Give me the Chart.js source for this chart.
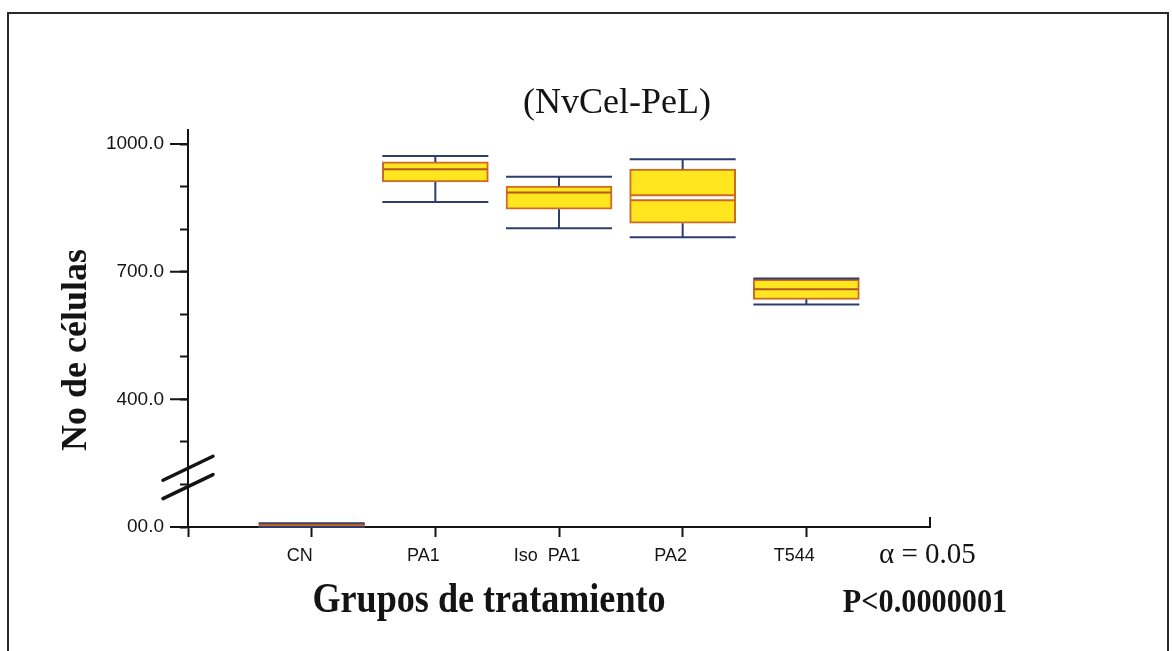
<!DOCTYPE html>
<html>
<head>
<meta charset="utf-8">
<title>NvCel-PeL</title>
<script src="https://cdn.jsdelivr.net/npm/chart.js@4.4.1/dist/chart.umd.min.js"></script>
<style>
  html, body { margin: 0; padding: 0; background: #fff; }
  canvas { display: block; }
</style>
</head>
<body>
<canvas id="c" width="1172" height="651"></canvas>
<script>
// Treatment groups and their box-plot summaries (number of cells)
const categories  = ['CN', 'PA1', 'Iso  PA1', 'PA2', 'T544'];
const whiskerLow  = [0, 864, 802, 781, 623];
const quartile1   = [1, 911, 847, 814, 635];
const medians     = [5, 941, 886, 874, 659];
const quartile3   = [8, 958, 901, 941, 682];
const whiskerHigh = [9, 972, 923, 964, 684];

// Y axis ticks; the lowest one sits below the axis break and stands for 0
const majorTicks = [100, 400, 700, 1000];
const tickLabels = ['00.0', '400.0', '700.0', '1000.0'];
const minorStep = 50;

// Values under the break are drawn shifted up to the bottom of the axis
const BREAK_BELOW = 100;
const toAxis = v => (v < BREAK_BELOW ? v + BREAK_BELOW : v);

const xLabels = ['', ...categories, ''];
const boxes = [null, ...categories.map((_, i) => [toAxis(quartile1[i]), toAxis(quartile3[i])]), null];

const INK = '#141414';
const BOX_FILL = '#FFE61E';
const BOX_EDGE = '#CF6A26';
const MEDIAN = '#B5561C';
const WHISKER = '#2F3D6E';

// Median drawn as an open band (px) for groups listed here, a plain line otherwise
const medianBand = [0, 0, 0, 5, 0];

const boxPlotParts = {
  id: 'boxPlotParts',
  afterDatasetsDraw(chart) {
    const { ctx, scales: { y } } = chart;
    const meta = chart.getDatasetMeta(0);
    ctx.save();
    categories.forEach((_, i) => {
      const bar = meta.data[i + 1];
      if (!bar) return;
      const { x, width } = bar.getProps(['x', 'width'], true);
      const half = width / 2;
      const yHi = y.getPixelForValue(toAxis(whiskerHigh[i]));
      const yQ3 = y.getPixelForValue(toAxis(quartile3[i]));
      const yQ1 = y.getPixelForValue(toAxis(quartile1[i]));
      const yLo = y.getPixelForValue(toAxis(whiskerLow[i]));
      const yMd = y.getPixelForValue(toAxis(medians[i]));

      // whiskers and caps
      ctx.strokeStyle = WHISKER;
      ctx.lineWidth = 2;
      ctx.beginPath();
      ctx.moveTo(x, yQ3); ctx.lineTo(x, yHi);
      ctx.moveTo(x - half, yHi); ctx.lineTo(x + half, yHi);
      ctx.moveTo(x, yQ1); ctx.lineTo(x, yLo);
      ctx.moveTo(x - half, yLo); ctx.lineTo(x + half, yLo);
      ctx.stroke();

      // median
      const band = medianBand[i];
      if (band > 0) {
        ctx.fillStyle = '#fff';
        ctx.fillRect(x - half + 2, yMd - band / 2, width - 4, band);
        ctx.strokeStyle = BOX_EDGE;
        ctx.lineWidth = 2;
        ctx.beginPath();
        ctx.moveTo(x - half + 1, yMd - band / 2); ctx.lineTo(x + half - 1, yMd - band / 2);
        ctx.moveTo(x - half + 1, yMd + band / 2); ctx.lineTo(x + half - 1, yMd + band / 2);
        ctx.stroke();
      } else {
        ctx.strokeStyle = MEDIAN;
        ctx.lineWidth = 2;
        ctx.beginPath();
        ctx.moveTo(x - half + 1, yMd); ctx.lineTo(x + half - 1, yMd);
        ctx.stroke();
      }
    });
    ctx.restore();
  }
};

function squeezedText(ctx, text, x, y, sx, font, align) {
  ctx.save();
  ctx.font = font;
  ctx.textAlign = align || 'center';
  ctx.textBaseline = 'alphabetic';
  ctx.translate(x, y);
  ctx.scale(sx, 1);
  ctx.fillText(text, 0, 0);
  ctx.restore();
}

const axisDecor = {
  id: 'axisDecor',
  beforeDraw(chart) {
    const { ctx, width, height } = chart;
    ctx.save();
    ctx.fillStyle = '#fff';
    ctx.fillRect(0, 0, width, height);
    ctx.restore();
  },
  afterDraw(chart) {
    const { ctx, chartArea, scales: { y } } = chart;
    const left = chartArea.left;
    ctx.save();
    ctx.strokeStyle = INK;

    // longer marks for the labelled ticks
    ctx.lineWidth = 2;
    ctx.beginPath();
    majorTicks.forEach(v => {
      const py = y.getPixelForValue(v);
      ctx.moveTo(left - 18, py); ctx.lineTo(left, py);
    });
    // closing mark at the right end of the x axis
    ctx.moveTo(chartArea.right, chartArea.bottom); ctx.lineTo(chartArea.right, chartArea.bottom - 10);
    ctx.stroke();

    // axis break
    ctx.lineWidth = 3.5;
    ctx.lineCap = 'round';
    ctx.beginPath();
    [238, 195].forEach(v => {
      const py = y.getPixelForValue(v);
      ctx.moveTo(left - 25, py + 12); ctx.lineTo(left + 25, py - 12);
    });
    ctx.stroke();

    // frame
    ctx.lineCap = 'butt';
    ctx.lineWidth = 2;
    ctx.strokeStyle = '#2a2a2a';
    ctx.strokeRect(8, 13, 1160, 700);

    // texts
    ctx.fillStyle = INK;
    ctx.font = '36px "Liberation Serif"';
    ctx.textAlign = 'center';
    ctx.textBaseline = 'alphabetic';
    ctx.fillText('(NvCel-PeL)', 617, 113);

    ctx.save();
    ctx.translate(86, 350);
    ctx.rotate(-Math.PI / 2);
    ctx.font = 'bold 36px "Liberation Serif"';
    ctx.textAlign = 'center';
    ctx.fillText('No de células', 0, 0);
    ctx.restore();

    squeezedText(ctx, 'Grupos de tratamiento', 489, 612, 0.86, 'bold 42px "Liberation Serif"');
    squeezedText(ctx, 'P<0.0000001', 925, 612, 0.89, 'bold 34px "Liberation Serif"');

    ctx.font = '29px "Liberation Serif"';
    ctx.textAlign = 'left';
    ctx.fillText('\u03B1 = 0.05', 879, 563);
    ctx.restore();
  }
};

new Chart(document.getElementById('c'), {
  type: 'bar',
  data: {
    labels: xLabels,
    datasets: [{
      data: boxes,
      backgroundColor: BOX_FILL,
      borderColor: BOX_EDGE,
      borderWidth: 2,
      borderSkipped: false,
      barThickness: 106
    }]
  },
  options: {
    responsive: false,
    animation: false,
    devicePixelRatio: 1,
    layout: { padding: { top: 130, right: 242, left: 0, bottom: 0 } },
    plugins: {
      legend: { display: false },
      tooltip: { enabled: false },
      title: { display: false }
    },
    scales: {
      x: {
        type: 'category',
        offset: false,
        grid: {
          offset: false,
          drawOnChartArea: false,
          tickLength: 10,
          tickWidth: 2,
          tickColor: c => (c.index === xLabels.length - 1 ? 'rgba(0,0,0,0)' : INK)
        },
        border: { color: INK, width: 2 },
        ticks: {
          font: { family: 'Liberation Sans', size: 18 },
          color: INK,
          labelOffset: -12,
          padding: 8,
          autoSkip: false,
          maxRotation: 0
        },
        afterFit: s => { s.height = 124; }
      },
      y: {
        type: 'linear',
        min: 100,
        max: 1033,
        afterBuildTicks: s => {
          const t = [];
          for (let v = majorTicks[0]; v <= majorTicks[majorTicks.length - 1]; v += minorStep) t.push({ value: v });
          s.ticks = t;
        },
        grid: { drawOnChartArea: false, tickLength: 8, tickWidth: 2, tickColor: INK },
        border: { color: INK, width: 2 },
        ticks: {
          callback: v => {
            const j = majorTicks.indexOf(v);
            return j >= 0 ? tickLabels[j] : '';
          },
          font: { family: 'Liberation Sans', size: 19 },
          color: INK,
          padding: 16
        },
        afterFit: s => { s.width = 188; }
      }
    }
  },
  plugins: [boxPlotParts, axisDecor]
});
</script>
</body>
</html>
